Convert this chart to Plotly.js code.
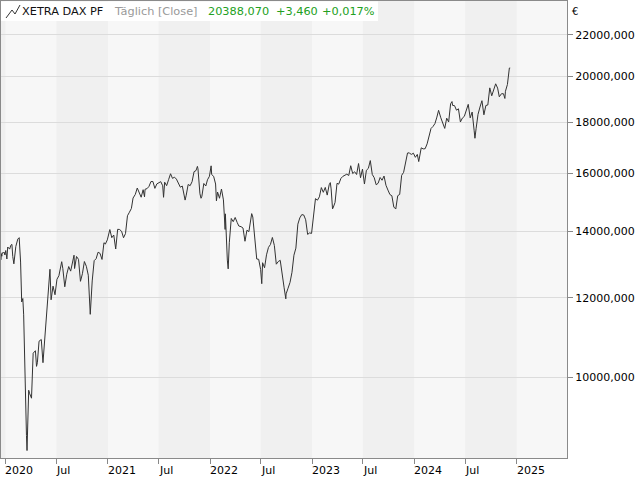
<!DOCTYPE html>
<html><head><meta charset="utf-8">
<script src="https://cdn.plot.ly/plotly-3.0.1.min.js"></script>
<style>html,body{margin:0;padding:0;background:#fff}</style>
</head><body><div id="chart" style="width:640px;height:480px"></div>
<script>
// ---- data (daily closes, [date, close]) ----
const closes2019 = [["2019-12-16",13100],["2019-12-17",13287],["2019-12-18",13222],["2019-12-19",13212],["2019-12-20",13319],["2019-12-23",13301],["2019-12-27",13337],["2019-12-30",13249]];
const closes2020 = [["2020-01-02",13386],["2020-01-03",13219],["2020-01-06",13127],["2020-01-09",13495],["2020-01-10",13483],["2020-01-16",13430],["2020-01-20",13548],["2020-01-24",13577],["2020-01-27",13205],["2020-01-31",12982],["2020-02-07",13514],["2020-02-14",13744],["2020-02-19",13789],["2020-02-21",13579],["2020-02-24",13035],["2020-02-28",11890],["2020-03-03",11985],["2020-03-06",11542],["2020-03-09",10625],["2020-03-12",9161],["2020-03-13",9232],["2020-03-16",8742],["2020-03-18",8442],["2020-03-20",8929],["2020-03-24",9701],["2020-03-27",9633],["2020-04-03",9525],["2020-04-09",10565],["2020-04-17",10626],["2020-04-21",10250],["2020-04-24",10336],["2020-04-30",10862],["2020-05-08",10904],["2020-05-14",10337],["2020-05-22",11074],["2020-05-29",11587],["2020-06-08",12820],["2020-06-12",11949],["2020-06-19",12331],["2020-06-26",12089],["2020-07-03",12528],["2020-07-10",12633],["2020-07-20",13046],["2020-07-24",12838],["2020-07-31",12313],["2020-08-07",12675],["2020-08-14",12901],["2020-08-21",12765],["2020-08-28",13033],["2020-09-02",13243],["2020-09-04",12842],["2020-09-11",13203],["2020-09-18",13116],["2020-09-25",12469],["2020-10-02",12689],["2020-10-09",13051],["2020-10-16",12909],["2020-10-23",12646],["2020-10-30",11556],["2020-11-06",12480],["2020-11-13",13077],["2020-11-20",13137],["2020-11-27",13335],["2020-12-04",13299],["2020-12-11",13114],["2020-12-18",13630],["2020-12-23",13587],["2020-12-30",13719]];
const closes2021 = [["2021-01-08",14049],["2021-01-15",13788],["2021-01-22",13873],["2021-01-29",13433],["2021-02-05",14057],["2021-02-12",14050],["2021-02-19",13993],["2021-02-26",13786],["2021-03-05",13920],["2021-03-12",14502],["2021-03-19",14621],["2021-03-26",14749],["2021-04-01",15107],["2021-04-09",15234],["2021-04-16",15460],["2021-04-23",15280],["2021-04-30",15136],["2021-05-07",15400],["2021-05-12",15150],["2021-05-14",15417],["2021-05-21",15438],["2021-05-28",15520],["2021-06-04",15693],["2021-06-11",15693],["2021-06-18",15448],["2021-06-25",15607],["2021-07-02",15650],["2021-07-09",15688],["2021-07-16",15540],["2021-07-19",15133],["2021-07-23",15669],["2021-07-30",15544],["2021-08-06",15761],["2021-08-13",15977],["2021-08-20",15808],["2021-08-27",15852],["2021-09-03",15781],["2021-09-10",15609],["2021-09-17",15490],["2021-09-24",15531],["2021-10-01",15156],["2021-10-04",15036],["2021-10-08",15207],["2021-10-15",15587],["2021-10-22",15543],["2021-10-29",15688],["2021-11-05",16054],["2021-11-12",16094],["2021-11-17",16251],["2021-11-19",16160],["2021-11-26",15257],["2021-11-30",15100],["2021-12-03",15170],["2021-12-10",15623],["2021-12-17",15532],["2021-12-23",15756],["2021-12-30",15885]];
const closes2022 = [["2022-01-05",16271],["2022-01-07",15948],["2022-01-14",15883],["2022-01-21",15603],["2022-01-24",15011],["2022-01-28",15318],["2022-02-04",15100],["2022-02-11",15425],["2022-02-18",15042],["2022-02-24",14052],["2022-02-25",14567],["2022-03-04",13095],["2022-03-07",12832],["2022-03-11",13628],["2022-03-18",14413],["2022-03-25",14306],["2022-04-01",14446],["2022-04-08",14284],["2022-04-14",14164],["2022-04-22",14143],["2022-04-29",14098],["2022-05-06",13675],["2022-05-13",14027],["2022-05-20",13982],["2022-05-27",14462],["2022-05-30",14575],["2022-06-03",14460],["2022-06-10",13762],["2022-06-17",13127],["2022-06-24",13118],["2022-07-01",12813],["2022-07-05",12401],["2022-07-08",13015],["2022-07-15",12865],["2022-07-22",13254],["2022-07-29",13484],["2022-08-05",13573],["2022-08-12",13795],["2022-08-19",13544],["2022-08-26",12971],["2022-09-02",13050],["2022-09-09",13088],["2022-09-16",12741],["2022-09-23",12284],["2022-09-29",11976],["2022-09-30",12114],["2022-10-07",12273],["2022-10-14",12438],["2022-10-21",12731],["2022-10-28",13243],["2022-11-04",13460],["2022-11-11",14224],["2022-11-18",14432],["2022-11-25",14541],["2022-12-02",14529],["2022-12-09",14370],["2022-12-16",13893],["2022-12-23",13941],["2022-12-30",13924]];
const closes2023 = [["2023-01-06",14610],["2023-01-13",15087],["2023-01-20",15033],["2023-01-27",15150],["2023-02-03",15476],["2023-02-10",15308],["2023-02-17",15482],["2023-02-24",15210],["2023-03-03",15578],["2023-03-07",15654],["2023-03-10",15428],["2023-03-15",14735],["2023-03-17",14768],["2023-03-24",14957],["2023-03-31",15629],["2023-04-06",15598],["2023-04-14",15808],["2023-04-21",15882],["2023-04-28",15922],["2023-05-05",15961],["2023-05-12",15914],["2023-05-19",16275],["2023-05-26",15984],["2023-06-02",16051],["2023-06-09",15949],["2023-06-16",16358],["2023-06-23",15830],["2023-06-30",16148],["2023-07-07",15603],["2023-07-14",16105],["2023-07-21",16177],["2023-07-28",16469],["2023-08-04",15952],["2023-08-11",15832],["2023-08-18",15575],["2023-08-25",15632],["2023-09-01",15840],["2023-09-08",15740],["2023-09-15",15893],["2023-09-22",15557],["2023-09-29",15387],["2023-10-06",15230],["2023-10-13",15187],["2023-10-20",14798],["2023-10-27",14730],["2023-11-03",15189],["2023-11-10",15234],["2023-11-17",15919],["2023-11-24",16029],["2023-12-01",16398],["2023-12-08",16759],["2023-12-14",16766],["2023-12-15",16751],["2023-12-22",16706],["2023-12-29",16752]];
const closes2024 = [["2024-01-05",16594],["2024-01-12",16705],["2024-01-17",16432],["2024-01-19",16555],["2024-01-26",16961],["2024-02-02",16918],["2024-02-09",16927],["2024-02-16",17117],["2024-02-23",17419],["2024-03-01",17735],["2024-03-08",17815],["2024-03-15",17936],["2024-03-22",18206],["2024-03-28",18492],["2024-04-05",18175],["2024-04-12",17930],["2024-04-19",17737],["2024-04-26",18161],["2024-05-03",18001],["2024-05-10",18773],["2024-05-15",18869],["2024-05-17",18704],["2024-05-24",18693],["2024-05-31",18498],["2024-06-07",18557],["2024-06-14",18002],["2024-06-21",18164],["2024-06-28",18235],["2024-07-05",18475],["2024-07-12",18748],["2024-07-19",18172],["2024-07-26",18418],["2024-08-02",17661],["2024-08-05",17339],["2024-08-09",17722],["2024-08-16",18322],["2024-08-23",18633],["2024-08-30",18907],["2024-09-06",18302],["2024-09-13",18699],["2024-09-20",18720],["2024-09-27",19474],["2024-10-04",19121],["2024-10-11",19373],["2024-10-18",19657],["2024-10-25",19464],["2024-10-31",19078],["2024-11-08",19215],["2024-11-15",19211],["2024-11-20",19004],["2024-11-22",19323],["2024-11-29",19626],["2024-12-02",19934],["2024-12-04",20232],["2024-12-06",20385],["2024-12-09",20388.07]];

const yTickVals = [10000, 12000, 14000, 16000, 18000, 20000, 22000];
const xTickVals = ["2020-01-01","2020-07-01","2021-01-01","2021-07-01","2022-01-01","2022-07-01","2023-01-01","2023-07-01","2024-01-01","2024-07-01","2025-01-01"];
const xTickText = ["2020","Jul","2021","Jul","2022","Jul","2023","Jul","2024","Jul","2025"];
const bandYears = [2019, 2020, 2021, 2022, 2023, 2024];

const instrumentName = "XETRA DAX PF";
const periodLabel = "Täglich [Close]";
const lastClose = 20388.070;
const absChange = 3.460;
const pctChange = 0.017;
const currency = "€";

// ---- build ----
const all = [].concat(closes2019, closes2020, closes2021, closes2022, closes2023, closes2024);
const dates = all.map(d => d[0]);
const values = all.map(d => d[1]);
const de = (v, n) => v.toFixed(n).replace('.', ',');
const sign = v => (v >= 0 ? '+' : '-');

const W = 640, H = 480, mL = 1, mR = 73, mT = 1, mB = 22;
const pw = W - mL - mR, ph = H - mT - mB;
const px = x => (x - mL) / pw;
const py = y => 1 - (y - mT) / ph;
const FONT = 'DejaVu Sans, Verdana, sans-serif';
const green = '#22a022';

const shapes = bandYears.map(y => ({
  type: 'rect', xref: 'x', yref: 'paper', x0: y + '-07-01', x1: (y + 1) + '-01-01', y0: 0, y1: 1,
  fillcolor: '#f0f0f0', line: {width: 0}, layer: 'below'
}));
shapes.push({type: 'rect', xref: 'paper', yref: 'paper', x0: px(1), x1: px(378), y0: py(21), y1: py(1.5),
  fillcolor: '#ffffff', line: {width: 0}, layer: 'above'});
shapes.push({type: 'path', xref: 'paper', yref: 'paper',
  path: `M ${px(6)},${py(18)} L ${px(12)},${py(10)} L ${px(15)},${py(14)} L ${px(20)},${py(5)}`,
  line: {color: '#333', width: 1}, layer: 'above'});

const annotations = [];
const legendY = py(12);
const legendParts = [
  [instrumentName, 21, '#111'],
  [periodLabel, 113, '#999'],
  [de(lastClose, 3), 207, green],
  [sign(absChange) + de(Math.abs(absChange), 3), 275, green],
  [sign(pctChange) + de(Math.abs(pctChange), 3) + '%', 321, green]
];
legendParts.forEach(([t, x, c]) => annotations.push({
  text: t, xref: 'paper', yref: 'paper', x: px(x), y: legendY, xanchor: 'left', yanchor: 'middle',
  showarrow: false, font: {family: FONT, size: 11.3, color: c}, borderpad: 0
}));
xTickVals.forEach((d, i) => annotations.push({
  text: xTickText[i], xref: 'x', yref: 'paper', x: d, y: 0, xanchor: 'left', yanchor: 'top',
  yshift: -5, xshift: -1, showarrow: false, borderpad: 0, font: {family: FONT, size: 11, color: '#000'}
}));
annotations.push({text: currency, xref: 'paper', yref: 'paper', x: px(571), y: py(11), xanchor: 'left', yanchor: 'middle',
  showarrow: false, borderpad: 0, font: {family: FONT, size: 10, color: '#000'}});

const trace = {
  x: dates, y: values, type: 'scatter', mode: 'lines',
  line: {color: '#333333', width: 1}, hoverinfo: 'skip', showlegend: false
};

const layout = {
  width: W, height: H,
  margin: {l: mL, r: mR, t: mT, b: mB, pad: 0},
  paper_bgcolor: '#ffffff', plot_bgcolor: '#f7f7f7',
  showlegend: false,
  xaxis: {
    type: 'date', range: ['2019-12-16', '2025-06-30'],
    tickmode: 'array', tickvals: xTickVals, showticklabels: false,
    ticks: 'outside', ticklen: 5, tickcolor: '#888', tickwidth: 1,
    showgrid: false, zeroline: false,
    showline: true, mirror: true, linecolor: '#8a8a8a', linewidth: 1
  },
  yaxis: {
    type: 'log', side: 'right', range: [3.9190, 4.3764],
    tickmode: 'array', tickvals: yTickVals, ticktext: yTickVals.map(v => v + ',000'),
    ticks: 'outside', ticklen: 5, tickcolor: '#888', tickwidth: 1,
    tickfont: {family: FONT, size: 11, color: '#000'},
    showgrid: true, gridcolor: '#dcdcdc', gridwidth: 1, zeroline: false,
    showline: true, mirror: true, linecolor: '#8a8a8a', linewidth: 1
  },
  shapes: shapes,
  annotations: annotations
};

Plotly.newPlot('chart', [trace], layout, {displayModeBar: false, staticPlot: true});
</script>
</body></html>
